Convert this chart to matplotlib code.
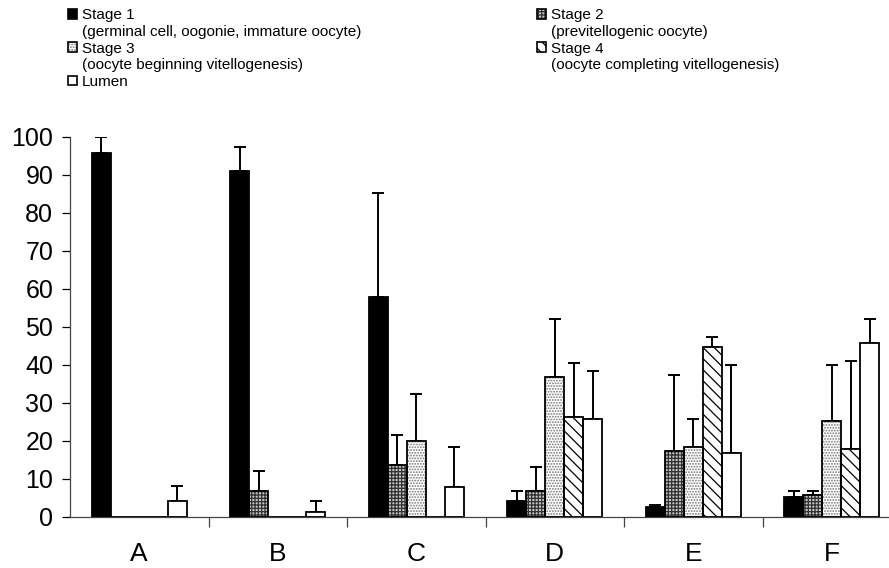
import matplotlib
matplotlib.use("Agg")
import matplotlib.pyplot as plt
from matplotlib.patches import Rectangle
import numpy as np

plt.rcParams['font.family'] = ['Liberation Sans', 'DejaVu Sans']

groups = ["A", "B", "C", "D", "E", "F"]
stage1 = [95.9, 91.1, 57.9, 4.2, 2.7, 5.3]
stage1_err = [100.0, 97.4, 85.3, 6.9, 3.2, 6.9]
stage2 = [0, 6.8, 13.7, 6.8, 17.3, 5.8]
stage2_err = [0, 12.1, 21.6, 13.1, 37.3, 6.9]
stage3 = [0, 0, 19.9, 36.8, 18.4, 25.2]
stage3_err = [0, 0, 32.5, 52.1, 25.8, 40.0]
stage4 = [0, 0, 0, 26.3, 44.7, 17.8]
stage4_err = [0, 0, 0, 40.5, 47.4, 41.1]
lumen = [4.2, 1.4, 7.8, 25.7, 16.8, 45.7]
lumen_err = [8.2, 4.1, 18.3, 38.3, 39.9, 52.1]

labels = [["Stage 1", "(germinal cell, oogonie, immature oocyte)"],
          ["Stage 2", "(previtellogenic oocyte)"],
          ["Stage 3", "(oocyte beginning vitellogenesis)"],
          ["Stage 4", "(oocyte completing vitellogenesis)"],
          ["Lumen"]]

series = [stage1, stage2, stage3, stage4, lumen]
errs = [stage1_err, stage2_err, stage3_err, stage4_err, lumen_err]
styles = [
    dict(face="black", hatch=None, hcol="black"),
    dict(face="#c4c4c4", hatch="+++++", hcol="#303030"),
    dict(face="white", hatch="......", hcol="#777777"),
    dict(face="white", hatch="\\\\\\", hcol="black"),
    dict(face="white", hatch=None, hcol="black"),
]

W, H = 889, 568
fig = plt.figure(figsize=(W / 100, H / 100), dpi=100)
ax = fig.add_axes([70 / W, (H - 517) / H, (901 - 70) / W, 380 / H])

x = np.arange(len(groups))
bw = 0.137
plt.rcParams['hatch.linewidth'] = 0.9
for i, (vals, ev, st) in enumerate(zip(series, errs, styles)):
    pos = x + (i - 2) * bw
    ax.bar(pos, vals, width=bw, color=st["face"], edgecolor=st["hcol"],
           hatch=st["hatch"], linewidth=0, zorder=2)
    ax.bar(pos, vals, width=bw, fill=False, edgecolor="black", linewidth=1.3, zorder=3)
    up = [max(e - v, 0) for e, v in zip(ev, vals)]
    mask = [e > 0 for e in ev]
    pp = [p for p, m in zip(pos, mask) if m]
    vv = [v for v, m in zip(vals, mask) if m]
    uu = [u for u, m in zip(up, mask) if m]
    ax.errorbar(pp, vv, yerr=[np.zeros(len(uu)), uu], fmt="none", ecolor="black",
                elinewidth=1.4, capsize=4.5, capthick=1.4, zorder=1)

ax.set_xlim(-0.5, 5.5)
ax.set_ylim(0, 100)
ax.set_yticks(np.arange(0, 101, 10))
ax.tick_params(axis="y", labelsize=18, length=6, width=0.9, direction="out", pad=6)
ax.set_xticks(x)
ax.set_xticklabels(groups, fontsize=19)
ax.tick_params(axis="x", length=0, pad=18)
ax.set_xticks(np.arange(0.5, 5.5, 1.0), minor=True)
ax.tick_params(axis="x", which="minor", length=7, width=0.9, color="#444444")
for s in ["top", "right"]:
    ax.spines[s].set_visible(False)
for s in ["left", "bottom"]:
    ax.spines[s].set_color("#444444")
    ax.spines[s].set_linewidth(0.9)

# legend drawn manually
legend_pos = [(68, 14), (537, 14), (68, 47), (537, 47), (68, 80)]
for (lx, ly), lab, st in zip(legend_pos, labels, styles):
    r = Rectangle((lx / W, (H - ly - 4.5) / H), 9 / W, 9 / H, transform=fig.transFigure,
                  facecolor=st["face"], edgecolor=st["hcol"], hatch=st["hatch"], linewidth=0)
    fig.add_artist(r)
    r2 = Rectangle((lx / W, (H - ly - 4.5) / H), 9 / W, 9 / H, transform=fig.transFigure,
                   fill=False, edgecolor="black", linewidth=1.2)
    fig.add_artist(r2)
    for j, line in enumerate(lab):
        fig.text((lx + 14) / W, (H - ly - j * 16.5) / H, line, fontsize=11,
                 va="center_baseline", ha="left")

fig.savefig("out.png", dpi=100)
